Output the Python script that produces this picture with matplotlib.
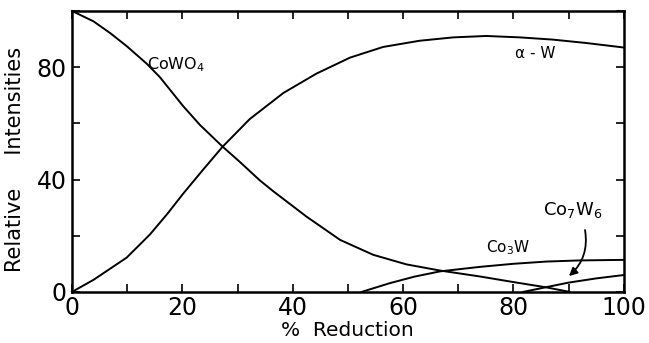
import matplotlib
matplotlib.use('Agg')
import matplotlib.pyplot as plt

# values
cowo4_x = [0, 3.9, 7, 9.9, 13.5, 15.9, 20.2, 23.2, 27.3, 30.4, 34.1, 36.5, 42.5, 48.6,
           54.6, 60.6, 66.7, 73.9, 80, 86, 90.2]
cowo4_y = [100, 96.3, 92, 87.5, 81.3, 76.5, 66, 59.4, 51.7, 46.3, 39.6, 35.8, 26.8, 18.5,
           13.2, 9.8, 7.6, 5.5, 3.5, 1.6, 0]

aw_x = [0, 3.9, 9.9, 14.1, 17.2, 20.2, 23.8, 27.3, 32.2, 38.3, 44.3, 50.4, 56.4, 63, 69.1,
        75.1, 81.2, 87.2, 93.2, 100]
aw_y = [0, 4.3, 12.2, 20.4, 27.6, 35.1, 43.6, 51.7, 61.5, 70.8, 77.7, 83.4, 87.2, 89.4, 90.6,
        91.1, 90.6, 89.8, 88.6, 87]

co3w_x = [52.5, 57.6, 62, 66.7, 73.9, 80, 86, 92, 100]
co3w_y = [0, 3.1, 5.4, 7.3, 8.9, 10, 10.8, 11.2, 11.4]

co7w6_x = [81.8, 86, 90, 95, 100]
co7w6_y = [0, 1.7, 3.3, 4.8, 6.0]

xticks = [0, 20, 40, 60, 80, 100]
yticks = [0, 40, 80]

fig = plt.figure(figsize=(6.49, 3.43), dpi=100)
ax = fig.add_axes([0.111, 0.149, 0.85, 0.819])

for xs, ys in [(cowo4_x, cowo4_y), (aw_x, aw_y), (co3w_x, co3w_y), (co7w6_x, co7w6_y)]:
    ax.plot(xs, ys, color='black', lw=1.4, clip_on=False, solid_joinstyle='round')

ax.set_xlim(0, 100)
ax.set_ylim(0, 100)
ax.set_xticks(xticks)
ax.set_xticks(range(0, 101, 10), minor=True)
ax.set_yticks(yticks)
ax.set_yticks(range(0, 101, 20), minor=True)
ax.tick_params(which='both', direction='in', top=True, right=True, width=1.2)
ax.tick_params(which='major', length=6, labelsize=17)
ax.tick_params(axis='x', pad=3)
ax.tick_params(axis='y', pad=4)
ax.tick_params(which='minor', length=6)
for s in ax.spines.values():
    s.set_linewidth(1.8)

ax.set_xlabel('%  Reduction', fontsize=14.5, labelpad=1)
ax.set_ylabel('Relative     Intensities', fontsize=15)
ax.yaxis.set_label_coords(-0.085, 0.47)

ax.text(13.6, 81, 'CoWO$_4$', fontsize=11.5, va='center')
ax.text(80.3, 84.8, 'α - W', fontsize=11, va='center')
ax.text(75, 15.6, 'Co$_3$W', fontsize=11, va='center')
ax.text(85.3, 29, 'Co$_7$W$_6$', fontsize=13, va='center')
ax.annotate('', xy=(89.7, 5), xytext=(92.9, 23),
            arrowprops=dict(arrowstyle='-|>', color='black', lw=1.3,
                            connectionstyle='arc3,rad=-0.3', mutation_scale=12))

fig.savefig('out.png', dpi=100)
